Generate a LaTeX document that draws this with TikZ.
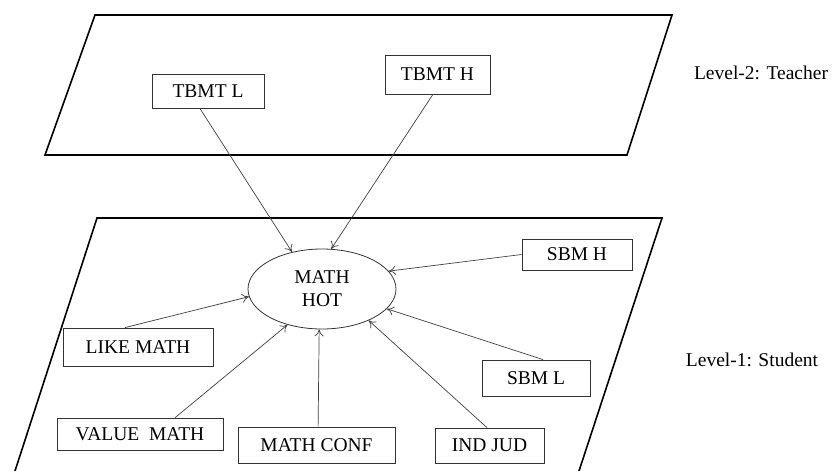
\documentclass[tikz,border=0pt]{standalone}
\usepackage{fontspec}
\setmainfont{Liberation Serif}
\usetikzlibrary{shapes.geometric,arrows.meta}
\begin{document}
\begin{tikzpicture}[x=1pt,y=-1pt,
  frame/.style={draw=black,line width=1.6pt,line join=miter},
  box/.style={draw=black!80,line width=0.8pt,rectangle,inner sep=0pt,font=\fontsize{19.5}{22}\selectfont},
  lbl/.style={font=\fontsize{19.5}{22}\selectfont,inner sep=0pt},
  conn/.style={draw=black!75,line width=0.7pt,-{To[length=7pt,width=9pt]}}]
\useasboundingbox (0,0) rectangle (833,471);
% planes
\draw[frame] (95,15) -- (672,15) -- (627,155) -- (45,155) -- cycle;
\draw[frame] (15,471) -- (97,218) -- (662,218) -- (579,471);
% teacher level
\node[box,minimum width=112pt,minimum height=34pt] (tbmtl) at (208,91) {TBMT L\hspace{18pt}};
\node[box,minimum width=105pt,minimum height=39pt] (tbmth) at (437.5,74.5) {TBMT H};
\node[lbl] (lv2) at (761,73) {Level-2: Teacher};
% student level
\node[draw=black!80,line width=0.8pt,ellipse,minimum width=148pt,minimum height=80pt,inner sep=0pt,
  font=\fontsize{19.5}{23}\selectfont,align=center] (hot) at (322,289) {MATH\\HOT};
\node[box,minimum width=110pt,minimum height=31pt] (sbmh) at (577,254.5) {SBM H};
\node[box,minimum width=150pt,minimum height=38pt] (like) at (138,347) {LIKE MATH};
\node[box,minimum width=108pt,minimum height=36pt] (sbml) at (536,378) {SBM L};
\node[box,minimum width=166pt,minimum height=32pt] (value) at (140,434) {VALUE\ \ MATH};
\node[box,minimum width=157pt,minimum height=36pt] (conf) at (316.5,445) {MATH CONF};
\node[box,minimum width=109pt,minimum height=35pt] (jud) at (489.5,445.5) {IND JUD};
\node[lbl] (lv1) at (752,360) {Level-1: Student};
% connectors
\draw[conn] (tbmtl.-115) -- (hot.129);
\draw[conn] (tbmth.-103) -- (hot.77);
\draw[conn] (sbmh.180) -- (hot.15.5);
\draw[conn] (like.124) -- (hot.186);
\draw[conn] (sbml.69) -- (hot.-17);
\draw[conn] (value.25) -- (hot.226);
\draw[conn] (conf.85) -- (hot.266);
\draw[conn] (jud.98) -- (hot.-34);
\end{tikzpicture}
\end{document}
